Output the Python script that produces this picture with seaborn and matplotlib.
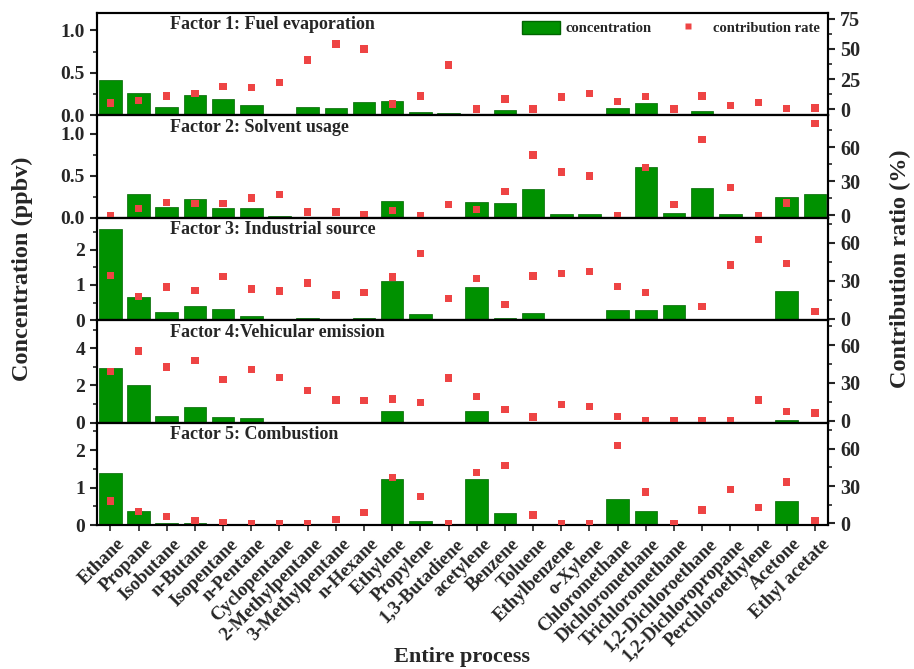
import numpy as np
import pandas as pd
import matplotlib.pyplot as plt
import seaborn as sns
import matplotlib.transforms as mtransforms
from matplotlib.patches import Patch
from matplotlib.lines import Line2D
from matplotlib.ticker import MultipleLocator, AutoMinorLocator

species = ["Ethane", "Propane", "Isobutane", "n-Butane", "Isopentane", "n-Pentane",
           "Cyclopentane", "2-Methylpentane", "3-Methylpentane", "n-Hexane", "Ethylene",
           "Propylene", "1,3-Butadiene", "acetylene", "Benzene", "Toluene", "Ethylbenzene",
           "o-Xylene", "Chloromethane", "Dichloromethane", "Trichloromethane",
           "1,2-Dichloroethane", "1,2-Dichloropropane", "Perchloroethylene", "Acetone",
           "Ethyl acetate"]

titles = ["Factor 1: Fuel evaporation", "Factor 2: Solvent usage",
          "Factor 3: Industrial source", "Factor 4:Vehicular emission",
          "Factor 5: Combustion"]

# concentration (ppbv)
conc_f1 = [0.42, 0.26, 0.10, 0.235, 0.19, 0.12, 0.02, 0.10, 0.085, 0.15, 0.17, 0.04, 0.03,
           0.0, 0.06, 0.0, 0.005, 0.005, 0.08, 0.145, 0.0, 0.05, 0.0, 0.0, 0.0, 0.0]
conc_f2 = [0.0, 0.28, 0.125, 0.22, 0.115, 0.11, 0.015, 0.0, 0.0, 0.0, 0.20, 0.0, 0.0,
           0.19, 0.17, 0.345, 0.04, 0.04, 0.0, 0.60, 0.06, 0.35, 0.045, 0.0, 0.25, 0.28]
conc_f3 = [2.57, 0.65, 0.22, 0.39, 0.31, 0.13, 0.01, 0.05, 0.02, 0.05, 1.10, 0.17, 0.0,
           0.93, 0.07, 0.19, 0.02, 0.02, 0.28, 0.28, 0.42, 0.03, 0.04, 0.0, 0.83, 0.0]
conc_f4 = [2.93, 2.0, 0.38, 0.85, 0.31, 0.25, 0.0, 0.05, 0.02, 0.05, 0.60, 0.05, 0.0,
           0.60, 0.05, 0.0, 0.0, 0.0, 0.03, 0.0, 0.0, 0.0, 0.0, 0.0, 0.15, 0.0]
conc_f5 = [1.38, 0.38, 0.07, 0.06, 0.0, 0.0, 0.0, 0.0, 0.0, 0.0, 1.24, 0.10, 0.0,
           1.22, 0.33, 0.03, 0.0, 0.0, 0.70, 0.37, 0.0, 0.03, 0.02, 0.0, 0.64, 0.0]

# contribution rate (%)
rate_f1 = [5.0, 7.0, 10.8, 13.0, 18.9, 18.0, 22.0, 40.8, 54.0, 50.0, 4.4, 10.8, 36.7,
           0.0, 8.3, 0.0, 10.0, 12.8, 6.4, 10.3, 0.0, 10.8, 3.3, 5.3, 0.3, 1.0]
rate_f2 = [0.0, 6.1, 11.4, 10.5, 10.2, 15.2, 18.1, 2.9, 2.9, 0.3, 4.4, 0.0, 9.4,
           5.0, 21.0, 53.0, 38.0, 34.5, 0.0, 42.0, 9.7, 66.4, 24.6, 0.0, 11.0, 80.5]
rate_f3 = [34.5, 17.8, 25.2, 22.6, 33.7, 23.6, 22.0, 28.4, 18.8, 21.0, 33.0, 51.5, 16.2,
           31.9, 11.2, 34.0, 35.8, 37.7, 25.5, 20.7, np.nan, 9.8, 42.5, 62.9, 43.8, 5.8]
rate_f4 = [39.2, 55.5, 42.7, 47.7, 33.0, 40.5, 34.4, 24.0, 16.5, 16.0, 17.3, 14.4, 34.1,
           19.2, 8.8, 2.9, 12.8, 11.5, 3.2, 0.0, 0.0, 0.0, 0.0, 16.5, 7.2, 6.1]
rate_f5 = [18.1, 9.6, 5.6, 2.1, 0.5, 0.0, 0.0, 0.0, 2.9, 8.8, 36.8, 21.9, 0.0,
           40.8, 46.7, 6.7, 0.0, 0.0, 62.7, 25.3, 0.0, 10.7, 27.5, 12.8, 33.3, 2.1]

conc_all = [conc_f1, conc_f2, conc_f3, conc_f4, conc_f5]
rate_all = [rate_f1, rate_f2, rate_f3, rate_f4, rate_f5]

# axis settings per panel
left_lims = [(0, 1.21), (0, 1.22), (0, 2.9), (0, 5.5), (0, 2.73)]
left_steps = [0.5, 0.5, 1, 2, 1]
right_lims = [(-5, 80), (-2, 88), (-1, 80), (-1.6, 80), (-1.4, 81)]
right_steps = [25, 30, 30, 30, 30]

sns.set_style("ticks")
plt.rcParams['font.family'] = ['Liberation Serif', 'DejaVu Serif']
plt.rcParams['font.weight'] = 'bold'

bar_color = "#009100"
dot_color = "#EE4444"

fig, axes = plt.subplots(5, 1, figsize=(9.14, 6.69), dpi=100, sharex=True)
fig.subplots_adjust(left=0.106, right=0.906, top=0.981, bottom=0.215, hspace=0)

for i, ax in enumerate(axes):
    df = pd.DataFrame({"species": species, "conc": conc_all[i], "rate": rate_all[i]})
    sns.barplot(data=df, x="species", y="conc", color=bar_color, saturation=1,
                width=0.8, edgecolor="#006400", linewidth=0.5, ax=ax)
    ax2 = ax.twinx()
    sns.scatterplot(x=np.arange(len(species)), y=df["rate"], marker="s", s=28,
                    color=dot_color, edgecolor="none", ax=ax2, zorder=5)
    ax.set_xlim(-0.48, len(species) - 0.53)
    ax.set_ylim(*left_lims[i])
    ax2.set_ylim(*right_lims[i])
    ax.yaxis.set_major_locator(MultipleLocator(left_steps[i]))
    ax.yaxis.set_minor_locator(AutoMinorLocator(2))
    ax2.yaxis.set_major_locator(MultipleLocator(right_steps[i]))
    ax2.yaxis.set_minor_locator(AutoMinorLocator(2))
    ax.set_xlabel("")
    ax.set_ylabel("")
    ax2.set_ylabel("")
    for a in (ax, ax2):
        for sp in a.spines.values():
            sp.set_linewidth(1.5)
            sp.set_color("black")
    ax.tick_params(axis="y", which="major", length=5, width=1.5, labelsize=14)
    ax.tick_params(axis="y", which="minor", length=3, width=1.2)
    ax2.tick_params(axis="y", which="major", length=5, width=1.5, labelsize=14.5)
    ax2.tick_params(axis="y", which="minor", length=3, width=1.2)
    ax.tick_params(axis="x", which="major", length=4, width=1.2)
    ax.text(0.1, 0.965, titles[i], transform=ax.transAxes, ha="left", va="top",
            fontsize=13, fontweight="bold")
    if i == 0:
        handles = [Patch(facecolor=bar_color, edgecolor="#006400"),
                   Line2D([0], [0], marker="s", color="none", markerfacecolor=dot_color,
                          markeredgecolor="none", markersize=5)]
        ax2.legend(handles, ["concentration", "contribution rate"], loc="upper right",
                   ncol=2, frameon=False, prop={"size": 10.5, "weight": "bold"},
                   handlelength=2.6, handleheight=1.0, columnspacing=1.2,
                   borderaxespad=0.15, handletextpad=0.4)

axes[-1].set_xticks(np.arange(len(species)))
labels = axes[-1].set_xticklabels(species, rotation=45, ha="right", rotation_mode="anchor",
                                  fontsize=13.5, fontweight="bold")
shift = mtransforms.ScaledTranslation(6 / 100, 0, fig.dpi_scale_trans)
for lab in labels:
    lab.set_transform(lab.get_transform() + shift)

fig.text(0.024, 0.598, "Concentration (ppbv)", rotation=90, ha="center", va="center",
         fontsize=17.5, fontweight="bold")
fig.text(0.985, 0.598, "Contribution ratio (%)", rotation=90, ha="center", va="center",
         fontsize=17.5, fontweight="bold")
fig.text(0.506, 0.018, "Entire process", ha="center", va="center",
         fontsize=16, fontweight="bold")

fig.savefig("out.png", dpi=100)
